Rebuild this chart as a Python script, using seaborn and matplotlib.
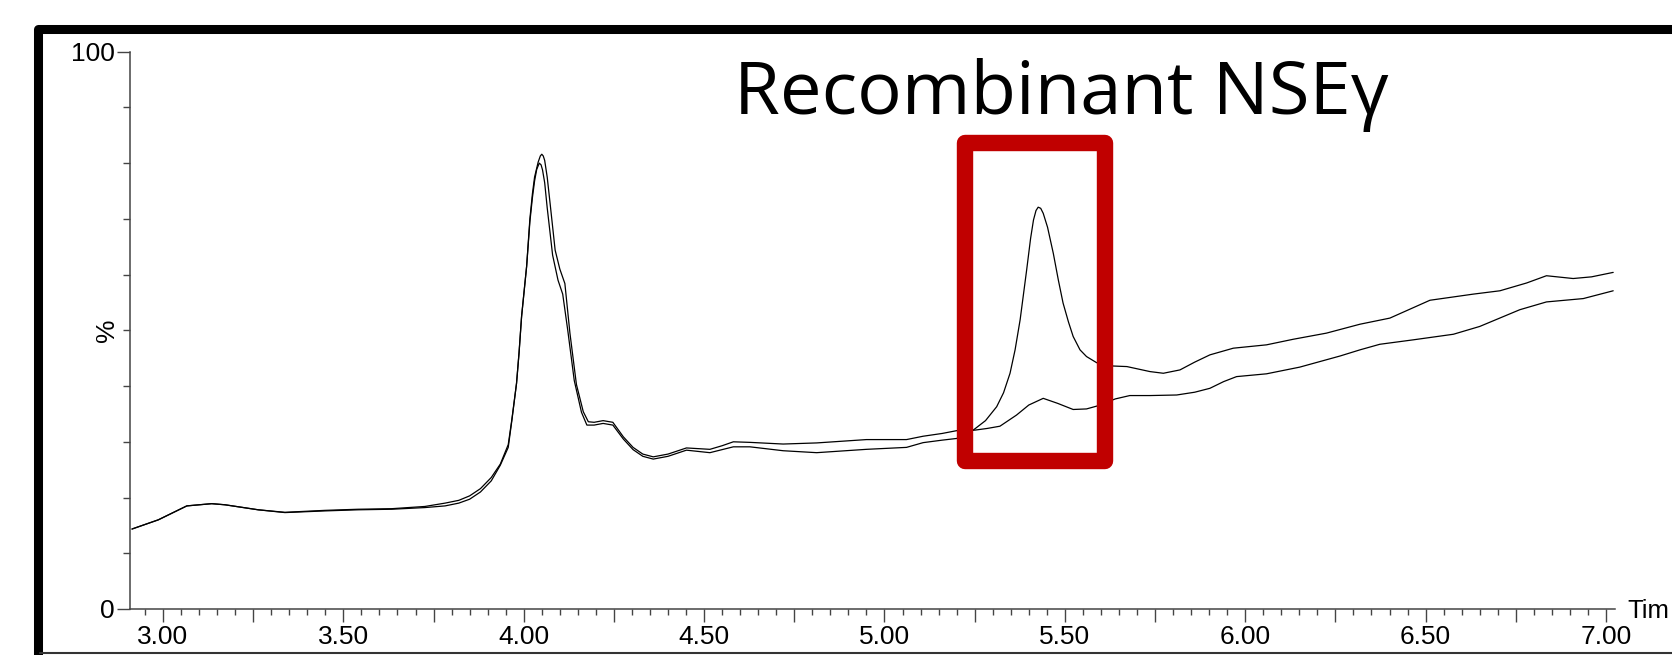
import numpy as np
import pandas as pd
import matplotlib
matplotlib.use("Agg")
import matplotlib.pyplot as plt
from matplotlib.lines import Line2D
from matplotlib.patches import Rectangle
from matplotlib.ticker import FixedLocator, FuncFormatter
import seaborn as sns

# Chromatogram traces: retention time (min) and relative intensity (%)
control_time = [2.914, 2.987, 3.066, 3.135, 3.172, 3.264, 3.338, 3.449, 3.541, 3.634,
                3.726, 3.782, 3.82, 3.85, 3.88, 3.91, 3.935, 3.957, 3.967, 3.98,
                3.987, 3.994, 4.008, 4.017, 4.024, 4.030, 4.040, 4.046, 4.050, 4.054,
                4.058, 4.065, 4.073, 4.087, 4.100, 4.114, 4.128, 4.146, 4.165, 4.179,
                4.195, 4.220, 4.247, 4.276, 4.303, 4.33, 4.359, 4.40, 4.451, 4.516,
                4.55, 4.581, 4.627, 4.719, 4.812, 4.950, 5.061, 5.107, 5.160, 5.200,
                5.251, 5.285, 5.320, 5.366, 5.40, 5.440, 5.48, 5.523, 5.560, 5.588,
                5.640, 5.680, 5.736, 5.810, 5.860, 5.902, 5.940, 5.976, 6.059, 6.151,
                6.263, 6.318, 6.373, 6.466, 6.577, 6.650, 6.761, 6.835, 6.937, 7.020]
control_signal = [14.35, 16.0, 18.5, 18.9, 18.7, 17.8, 17.35, 17.7, 17.9, 18.0,
                  18.4, 19.0, 19.5, 20.3, 21.6, 23.6, 26.0, 29.5, 34.0, 40.5,
                  46.0, 52.5, 61.5, 70.0, 74.5, 77.5, 80.2, 81.3, 81.6, 81.3,
                  80.5, 77.5, 72.8, 64.4, 61.0, 58.4, 49.5, 40.3, 35.4, 33.6,
                  33.5, 33.8, 33.5, 30.9, 29.0, 27.8, 27.3, 27.8, 28.9, 28.65,
                  29.3, 30.0, 29.9, 29.6, 29.8, 30.4, 30.4, 31.0, 31.5, 32.0,
                  32.1, 32.4, 32.8, 34.8, 36.6, 37.8, 36.9, 35.8, 35.9, 36.4,
                  37.7, 38.3, 38.3, 38.4, 38.9, 39.6, 40.8, 41.7, 42.2, 43.4,
                  45.4, 46.5, 47.5, 48.3, 49.3, 50.7, 53.7, 55.1, 55.7, 57.1]

spiked_time = [2.914, 2.987, 3.066, 3.135, 3.172, 3.264, 3.338, 3.449, 3.541, 3.634,
               3.726, 3.782, 3.82, 3.85, 3.88, 3.91, 3.935, 3.957, 3.967, 3.98,
               3.987, 3.994, 4.008, 4.017, 4.024, 4.030, 4.036, 4.043, 4.048, 4.052,
               4.058, 4.065, 4.080, 4.095, 4.108, 4.122, 4.140, 4.160, 4.175, 4.195,
               4.220, 4.247, 4.276, 4.303, 4.33, 4.359, 4.40, 4.451, 4.516, 4.55,
               4.581, 4.627, 4.719, 4.812, 4.950, 5.061, 5.107, 5.160, 5.200, 5.246,
               5.280, 5.311, 5.330, 5.348, 5.362, 5.376, 5.394, 5.405, 5.413, 5.420,
               5.426, 5.433, 5.440, 5.452, 5.468, 5.482, 5.495, 5.510, 5.523, 5.542,
               5.560, 5.588, 5.634, 5.672, 5.736, 5.773, 5.819, 5.860, 5.902, 5.967,
               6.059, 6.133, 6.225, 6.318, 6.401, 6.512, 6.632, 6.706, 6.780, 6.835,
               6.909, 6.960, 7.020]
spiked_signal = [14.35, 16.0, 18.5, 18.9, 18.7, 17.8, 17.3, 17.6, 17.8, 17.9,
                 18.2, 18.5, 19.0, 19.7, 21.0, 23.0, 25.8, 29.0, 33.8, 40.5,
                 46.0, 52.5, 61.5, 69.5, 73.8, 76.8, 78.9, 80.0, 79.7, 78.8,
                 76.5, 72.0, 63.5, 59.0, 56.5, 50.0, 41.0, 35.3, 33.0, 33.0,
                 33.3, 33.0, 30.5, 28.6, 27.4, 26.9, 27.4, 28.5, 28.05, 28.6,
                 29.1, 29.1, 28.4, 28.05, 28.65, 29.0, 29.85, 30.3, 30.6, 32.1,
                 33.8, 36.3, 38.8, 42.3, 46.5, 51.9, 60.8, 66.5, 69.8, 71.5,
                 72.1, 71.9, 71.0, 68.5, 63.8, 59.0, 54.9, 51.5, 48.9, 46.5,
                 45.3, 44.2, 43.6, 43.5, 42.6, 42.3, 42.9, 44.3, 45.6, 46.8,
                 47.4, 48.4, 49.5, 51.1, 52.2, 55.4, 56.5, 57.1, 58.5, 59.8,
                 59.3, 59.6, 60.4]

# Highlighted elution window (time range, % range)
window_time = (5.223, 5.611)
window_pct = (26.56, 83.56)

y_ticks_major = [0, 100]
y_ticks_minor = [10, 20, 30, 40, 50, 60, 70, 80, 90]
x_major = [round(2.75 + 0.25 * i, 2) for i in range(1, 18)]
x_minor = [round(2.95 + 0.05 * i, 2) for i in range(0, 82)]

title_text = "Recombinant NSEγ"

sns.set_theme(style="white")
plt.rcParams["font.family"] = ["Liberation Sans", "DejaVu Sans"]

W, H = 1672, 655
fig = plt.figure(figsize=(W / 100, H / 100), dpi=100)
ax = fig.add_axes([130 / W, 1 - 609 / H, (1615 - 130) / W, (609 - 51.7) / H])

df_c = pd.DataFrame({"time": control_time, "pct": control_signal})
df_s = pd.DataFrame({"time": spiked_time, "pct": spiked_signal})
sns.lineplot(data=df_c, x="time", y="pct", ax=ax, color="black", lw=0.9, estimator=None)
sns.lineplot(data=df_s, x="time", y="pct", ax=ax, color="black", lw=0.9, estimator=None)

ax.set_xlim(2.9085, 7.025)
ax.set_ylim(0, 100)
ax.set_xlabel("")
ax.set_ylabel("")

for s in ["top", "right"]:
    ax.spines[s].set_visible(False)
for s in ["left", "bottom"]:
    ax.spines[s].set_color("#444444")
    ax.spines[s].set_linewidth(1.1)

ax.yaxis.set_major_locator(FixedLocator(y_ticks_major))
ax.yaxis.set_minor_locator(FixedLocator(y_ticks_minor))
ax.yaxis.set_major_formatter(FuncFormatter(lambda v, p: f"{v:.0f}"))
ax.tick_params(axis="y", which="major", length=9.4, width=1.0, color="#444444",
               labelsize=19, pad=1.5, left=True, direction="out")
ax.tick_params(axis="y", which="minor", length=5.0, width=1.0, color="#444444",
               left=True, direction="out")

ax.xaxis.set_major_locator(FixedLocator(x_major))
ax.xaxis.set_minor_locator(FixedLocator([m for m in x_minor
                                         if all(abs(m - M) > 1e-6 for M in x_major)]))
ax.xaxis.set_major_formatter(FuncFormatter(
    lambda v, p: f"{v:.2f}" if abs(v * 2 - round(v * 2)) < 1e-6 else ""))
ax.tick_params(axis="x", which="major", length=9.4, width=1.0, color="#444444",
               labelsize=19, pad=2, bottom=True, direction="out")
ax.tick_params(axis="x", which="minor", length=4.3, width=1.0, color="#444444",
               bottom=True, direction="out")
for lbl in ax.get_xticklabels() + ax.get_yticklabels():
    lbl.set_color("black")

# Red window around the recombinant protein peak
ax.add_patch(Rectangle((window_time[0], window_pct[0]),
                       window_time[1] - window_time[0], window_pct[1] - window_pct[0],
                       fill=False, edgecolor="#C00000", lw=11.8, joinstyle="round",
                       clip_on=False, zorder=5))

# Axis captions
fig.text(107 / W, 1 - 330 / H, "%", rotation=90, ha="center", va="center",
         fontsize=19, color="black")
fig.text(1627 / W, 1 - 618 / H, "Tim", ha="left", va="baseline",
         fontsize=18.5, color="black")

fig.text(734 / W, 1 - 114 / H, title_text, ha="left", va="baseline",
         fontsize=53.5, color="black", family=["Open Sans", "DejaVu Sans"])

# Slide frame
fig.add_artist(Line2D([37.5 / W, 37.5 / W, 1.05], [-0.1, 1 - 29 / H, 1 - 29 / H],
                      transform=fig.transFigure, color="black", lw=6.5,
                      solid_joinstyle="round", solid_capstyle="butt"))
fig.add_artist(Line2D([40 / W, 1.0], [1 - 653 / H, 1 - 653 / H],
                      transform=fig.transFigure, color="#333333", lw=1.5))

fig.savefig("out.png", dpi=100)
